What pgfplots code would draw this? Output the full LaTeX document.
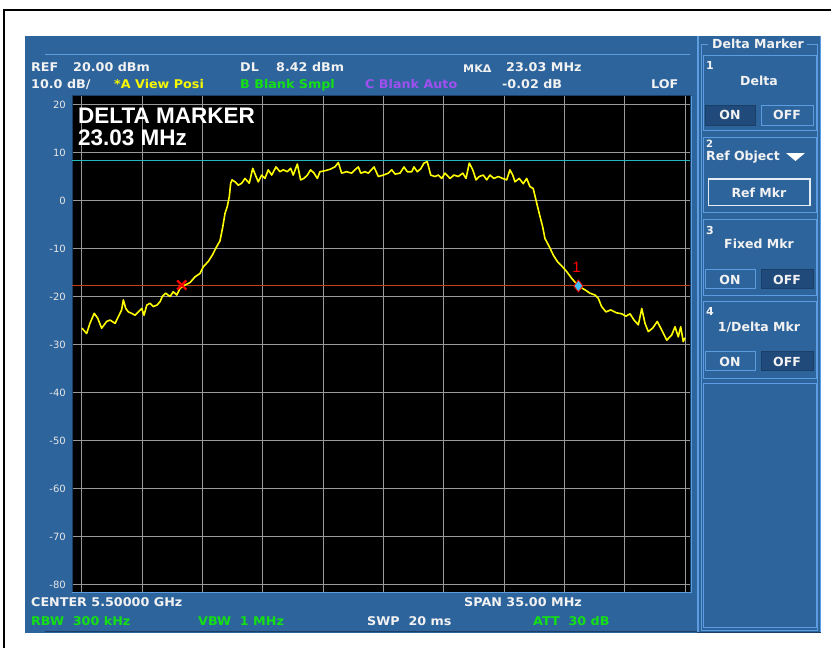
\documentclass[border=0pt]{standalone}
\usepackage{pgfplots}
\pgfplotsset{compat=1.18}
\usepackage{pgfplotstable}
\usepackage{fontspec}
\setmainfont{DejaVu Sans}
\newfontfamily\hdrfont{DejaVu Sans}[FakeStretch=1.06]
\newfontfamily\libsans{Liberation Sans}
\definecolor{panel}{HTML}{2E649C}
\definecolor{panellight}{HTML}{5C9CE0}
\definecolor{paneldark}{HTML}{1A3E66}
\definecolor{pressed}{HTML}{1F4A7A}
\definecolor{gridgray}{HTML}{9A9A9A}
\definecolor{trace}{HTML}{FFFF00}
\definecolor{dlcyan}{HTML}{22B8C0}
\definecolor{mkline}{HTML}{C0401A}
\definecolor{txtgreen}{HTML}{14E014}
\definecolor{txtpurple}{HTML}{A050F0}
\definecolor{txtwhite}{HTML}{F2F2F2}
\definecolor{txtyellow}{HTML}{F8F800}

\pgfplotstableread{
f v
-17.50 -26.5
-17.23 -27.6
-17.04 -25.5
-16.79 -23.4
-16.59 -24.4
-16.36 -26.5
-16.07 -25.1
-15.87 -24.8
-15.58 -25.5
-15.39 -24.1
-15.20 -22.7
-15.10 -20.6
-14.96 -22.4
-14.81 -23.1
-14.62 -23.4
-14.42 -23.8
-14.23 -23.1
-14.03 -22.4
-13.90 -23.8
-13.74 -21.7
-13.55 -21.3
-13.36 -22.0
-13.16 -21.7
-12.97 -21.0
-12.84 -19.9
-12.64 -19.2
-12.39 -19.9
-12.20 -18.9
-12.00 -19.6
-11.81 -18.2
-11.52 -17.5
-11.23 -17.0
-10.94 -15.8
-10.65 -15.1
-10.46 -13.7
-10.17 -12.6
-9.94 -11.3
-9.68 -9.5
-9.49 -8.3
-9.33 -5.4
-9.20 -2.6
-9.07 -1.2
-8.95 0.9
-8.87 3.7
-8.79 4.4
-8.62 4.0
-8.43 3.3
-8.23 3.7
-8.04 4.7
-7.79 3.7
-7.59 6.8
-7.40 5.1
-7.27 4.0
-7.07 5.4
-6.88 4.7
-6.69 6.5
-6.49 5.4
-6.24 7.1
-6.01 6.1
-5.82 6.5
-5.58 6.1
-5.39 6.8
-5.24 5.4
-5.00 7.7
-4.81 4.4
-4.62 4.7
-4.42 5.4
-4.23 6.5
-4.03 5.8
-3.84 4.7
-3.69 6.1
-3.40 6.3
-3.11 6.6
-2.82 7.1
-2.62 8.0
-2.43 5.8
-2.14 6.1
-1.85 5.8
-1.66 6.5
-1.46 7.1
-1.32 5.8
-1.07 6.1
-0.88 5.8
-0.55 7.1
-0.30 5.1
-0.01 5.4
0.28 5.8
0.48 6.5
0.67 5.6
0.96 5.8
1.19 7.1
1.38 6.1
1.64 6.1
1.77 7.1
1.96 6.1
2.16 6.7
2.35 7.9
2.54 8.2
2.74 5.4
2.99 5.1
3.18 5.4
3.38 4.7
3.57 5.8
3.86 4.7
4.09 5.4
4.34 5.1
4.60 5.8
4.79 4.7
4.98 7.9
5.18 6.5
5.37 4.4
5.56 5.1
5.79 5.4
5.99 4.4
6.18 5.4
6.41 4.7
6.66 5.1
6.92 4.7
7.15 4.4
7.34 6.5
7.50 5.4
7.63 4.0
7.88 4.7
8.11 3.6
8.31 4.7
8.50 3.0
8.69 2.6
8.85 0.2
9.04 -2.6
9.24 -5.4
9.37 -7.8
9.62 -9.5
9.86 -11.3
10.09 -12.6
10.34 -13.5
10.63 -14.7
10.92 -16.1
11.31 -17.7
11.69 -18.5
11.98 -19.2
12.28 -19.6
12.47 -20.3
12.66 -22.0
12.91 -23.1
13.19 -22.7
13.53 -23.3
13.83 -23.5
14.07 -24.0
14.31 -23.5
14.54 -24.8
14.79 -25.8
14.99 -22.4
15.18 -25.5
15.37 -27.2
15.62 -26.5
15.89 -25.1
16.15 -26.9
16.44 -29.0
16.73 -27.9
16.92 -26.2
17.11 -28.3
17.25 -26.2
17.40 -29.3
17.50 -28.5
}\tracedata

\newcommand{\hdr}{\hdrfont\bfseries\fontsize{12}{13}\selectfont}
\newcommand{\pnl}{\bfseries\fontsize{12.5}{14}\selectfont}

\begin{document}
\begin{tikzpicture}
\begin{scope}[x=1pt,y=-1pt]
\fill[white] (0,0) rectangle (831,648);
\draw[black, line width=2pt] (4,648) -- (4,10) -- (831,10);
% main panel
\fill[panel] (25,36) rectangle (697,633);
\draw[panellight, line width=1pt] (45,54.5) -- (690,54.5);
\draw[paneldark, line width=1pt] (45,631) -- (697,631);
% right panel
\fill[panel] (697,36) rectangle (821,633);
\draw[panellight, line width=1.2pt] (698,36) -- (698,633);
\draw[panellight, line width=1.2pt] (820.5,36) -- (820.5,633);
\draw[paneldark, line width=1pt] (697,632) -- (821,632);
% group frame
\draw[panellight, line width=1pt] (708,44) -- (701,44) -- (701,630) -- (817,630) -- (817,44) -- (807,44);
\end{scope}

\begin{axis}[
  at={(72pt,-592pt)}, anchor=south west,
  scale only axis, width=618pt, height=496pt,
  xmin=-18.08, xmax=17.79, ymin=-81.46, ymax=21.875,
  axis background/.style={fill=black},
  axis line style={draw=paneldark, line width=1pt},
  xtick={-17.5,-14,-10.5,-7,-3.5,0,3.5,7,10.5,14,17.5},
  ytick={-80,-70,-60,-50,-40,-30,-20,-10,0,10,20},
  xticklabels={},
  grid=major,
  major grid style={gridgray, line width=1pt},
  major tick length=0pt,
  /pgf/number format/assume math mode=true,
  yticklabel style={font=\fontsize{10}{11}\selectfont, text=txtwhite!90!gray, inner sep=0pt, xshift=-6pt},
  clip=true,
]
\addplot[dlcyan, line width=1.4pt] coordinates {(-18.08,8.42) (17.79,8.42)};
\addplot[mkline, line width=1.4pt] coordinates {(-18.08,-17.6) (17.79,-17.6)};
\addplot[trace, line width=1.6pt, line join=round] table[x=f, y=v] {\tracedata};
\addplot[only marks, mark=x, mark size=6.5pt, mark options={draw=red, line width=2.4pt}] coordinates {(-11.71,-17.5)};
\addplot[only marks, mark=diamond*, mark size=6pt, mark options={draw=red, fill=cyan!75!white, line width=0.8pt}] coordinates {(11.31,-17.7)};
\coordinate (lab1) at (axis cs:11.21,-13.75);
\end{axis}

\begin{scope}[x=1pt,y=-1pt]
\node[text=red, font=\libsans\fontsize{15}{15}\selectfont, inner sep=0pt] at (lab1) {1};
\draw[panellight, line width=1pt] (72,592) -- (691,592) -- (691,96);
% plot overlay text
\node[anchor=base west, inner sep=0pt, text=white, font=\libsans\bfseries\fontsize{22.5}{24}\selectfont] at (78,123) {DELTA MARKER};
\node[anchor=base west, inner sep=0pt, text=white, font=\libsans\bfseries\fontsize{22.5}{24}\selectfont] at (78,145) {23.03 MHz};
% header
\begin{scope}[every node/.style={anchor=base west, inner sep=0pt, font=\hdr, text=txtwhite}]
\node at (31,71) {REF};
\node at (73,71) {20.00 dBm};
\node at (240,71) {DL};
\node at (276,71) {8.42 dBm};
\node[font=\hdrfont\bfseries\fontsize{10.5}{12}\selectfont] at (463,72) {MKΔ};
\node at (506,71) {23.03 MHz};
\node at (31,88) {10.0 dB/};
\node[text=txtyellow] at (114,88) {*A View Posi};
\node[text=txtgreen] at (240,88) {B Blank Smpl};
\node[text=txtpurple] at (365,88) {C Blank Auto};
\node at (502,88) {-0.02 dB};
\node at (651,88) {LOF};
\node at (31,606.5) {CENTER 5.50000 GHz};
\node at (464,606.5) {SPAN 35.00 MHz};
\node[text=txtgreen] at (31,625) {RBW\ \ 300 kHz};
\node[text=txtgreen] at (198,625) {VBW\ \ 1 MHz};
\node at (367,625) {SWP\ \ 20 ms};
\node[text=txtgreen] at (533,625) {ATT\ \ 30 dB};
\end{scope}
% right panel contents
\node[anchor=base, inner sep=0pt, font=\pnl, text=txtwhite] at (758,48) {Delta Marker};
\begin{scope}[every node/.style={inner sep=0pt, text=txtwhite}]
% box 1
\draw[panellight, line width=1pt] (703.5,55) rectangle (816,130);
\node[anchor=base west, font=\bfseries\fontsize{11}{12}\selectfont] at (706,69) {1};
\node[anchor=base, font=\pnl] at (759,85) {Delta};
\fill[pressed] (705,105) rectangle (755.5,125);
\draw[paneldark, line width=1pt] (705,105) rectangle (755.5,125);
\draw[panellight, line width=1pt] (761,105) rectangle (813,125);
\node[anchor=base, font=\pnl] at (730,119.5) {ON};
\node[anchor=base, font=\pnl] at (787,119.5) {OFF};
% box 2
\draw[panellight, line width=1pt] (703.5,137) rectangle (816,212.5);
\node[anchor=base west, font=\bfseries\fontsize{10}{10}\selectfont] at (706,147) {2};
\node[anchor=base west, font=\pnl] at (706,160.5) {Ref Object};
\fill[white] (786,153) -- (805,153) -- (795.5,161) -- cycle;
\draw[white!88!panel, line width=1.3pt] (708.5,179) rectangle (810,205.5);
\node[anchor=base, font=\pnl] at (759,197) {Ref Mkr};
% box 3
\draw[panellight, line width=1pt] (703.5,219) rectangle (816,295);
\node[anchor=base west, font=\bfseries\fontsize{11}{12}\selectfont] at (706,234) {3};
\node[anchor=base, font=\pnl] at (759,248.5) {Fixed Mkr};
\draw[panellight, line width=1pt] (705,269) rectangle (755.5,288.5);
\fill[pressed] (761,269) rectangle (813,288.5);
\draw[paneldark, line width=1pt] (761,269) rectangle (813,288.5);
\node[anchor=base, font=\pnl] at (730,284) {ON};
\node[anchor=base, font=\pnl] at (787,284) {OFF};
% box 4
\draw[panellight, line width=1pt] (703.5,301) rectangle (816,378);
\node[anchor=base west, font=\bfseries\fontsize{11}{12}\selectfont] at (706,315.5) {4};
\node[anchor=base, font=\pnl] at (759,331.5) {1/Delta Mkr};
\draw[panellight, line width=1pt] (705,351) rectangle (755.5,370.5);
\fill[pressed] (761,351) rectangle (813,370.5);
\draw[paneldark, line width=1pt] (761,351) rectangle (813,370.5);
\node[anchor=base, font=\pnl] at (730,366) {ON};
\node[anchor=base, font=\pnl] at (787,366) {OFF};
% empty box
\draw[panellight, line width=1pt] (703.5,383) rectangle (816,627);
\end{scope}
\end{scope}
\pgfresetboundingbox
\path (0pt,0pt) rectangle (831pt,-648pt);
\end{tikzpicture}
\end{document}
